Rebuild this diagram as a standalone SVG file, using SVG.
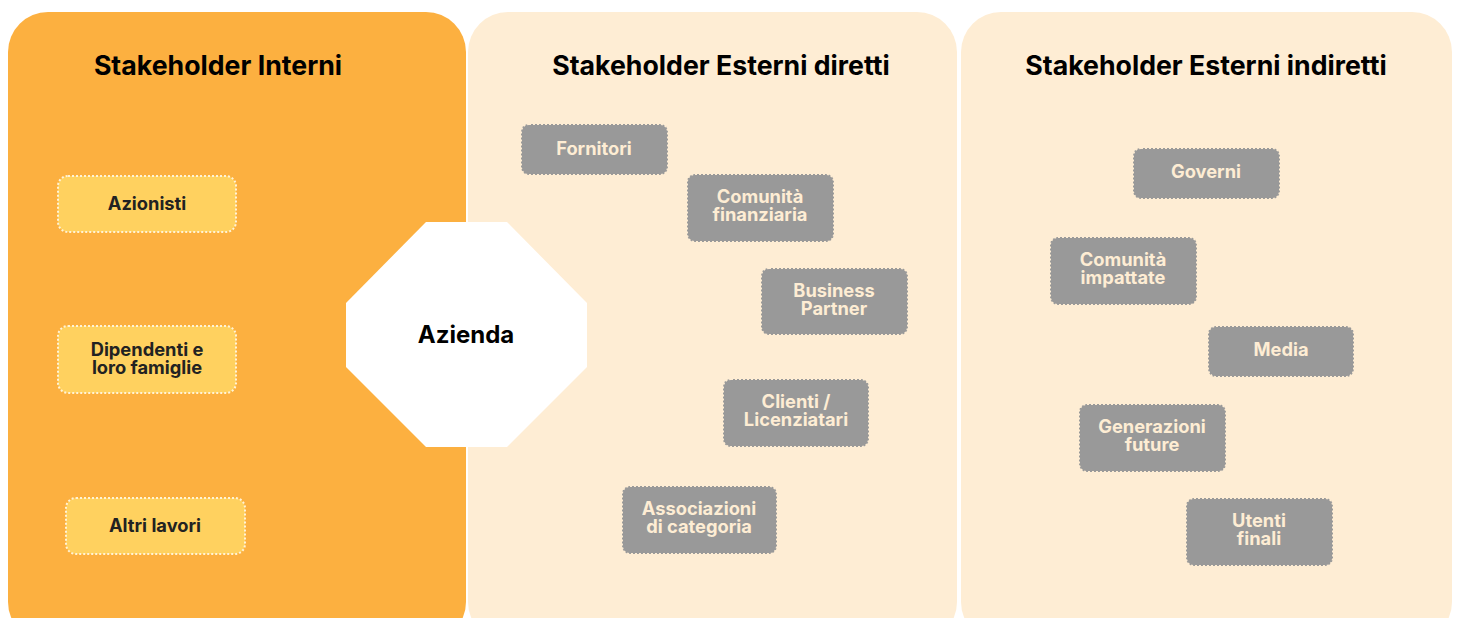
<svg xmlns="http://www.w3.org/2000/svg" width="1458" height="618" viewBox="0 0 1458 618">
<style>
.title{font-family:Inter,"Liberation Sans",sans-serif;font-weight:700;font-size:26.7px;fill:#000;text-anchor:middle}
.in rect{fill:#FFD15F;stroke:#FFF3D6;stroke-width:2;stroke-dasharray:2 2}
.in text{font-family:Inter,"Liberation Sans",sans-serif;font-weight:700;font-size:18.3px;fill:#222;text-anchor:middle}
.ex rect{fill:#999999;stroke:#FEEDD4;stroke-width:2;stroke-dasharray:2 2}
.ex text{font-family:Inter,"Liberation Sans",sans-serif;font-weight:700;font-size:18.3px;fill:#FEEDD4;text-anchor:middle}
</style>
<rect width="1458" height="618" fill="#fff"/>
<g id="panel-interni">
<rect x="8" y="12" width="458" height="630" rx="40" fill="#FCB040"/>
<text class="title" x="218" y="75">Stakeholder Interni</text>
</g>
<g id="panel-diretti">
<rect x="468" y="12" width="489" height="630" rx="40" fill="#FEEDD4"/>
<text class="title" x="721" y="75">Stakeholder Esterni diretti</text>
</g>
<g id="panel-indiretti">
<rect x="961" y="12" width="491" height="630" rx="40" fill="#FEEDD4"/>
<text class="title" x="1206" y="75">Stakeholder Esterni indiretti</text>
</g>
<g id="connectors"></g>
<g id="azienda">
<polygon points="426,222 507,222 587,303 587,367 507,447 426,447 346,367 346,303" fill="#fff"/>
<text x="466" y="343" font-family="Inter,'Liberation Sans',sans-serif" font-weight="700" font-size="24" text-anchor="middle" fill="#000">Azienda</text>
</g>
<g id="azionisti" class="in"><rect x="58" y="176" width="178" height="56" rx="10"/><text x="147" y="210">Azionisti</text></g>
<g id="dipendenti" class="in"><rect x="58" y="326" width="178" height="67" rx="10"/><text x="147" y="356">Dipendenti e</text><text x="147" y="374">loro famiglie</text></g>
<g id="altri-lavori" class="in"><rect x="66" y="498" width="179" height="56" rx="10"/><text x="155" y="532">Altri lavori</text></g>
<g id="fornitori" class="ex"><rect x="521" y="124" width="147" height="51" rx="8"/><text x="594" y="155">Fornitori</text></g>
<g id="comunita-finanziaria" class="ex"><rect x="687" y="174" width="147" height="68" rx="8"/><text x="760" y="203">Comunità</text><text x="760" y="221">finanziaria</text></g>
<g id="business-partner" class="ex"><rect x="761" y="268" width="147" height="67" rx="8"/><text x="834" y="297">Business</text><text x="834" y="315">Partner</text></g>
<g id="clienti" class="ex"><rect x="723" y="379" width="146" height="68" rx="8"/><text x="796" y="408">Clienti /</text><text x="796" y="426">Licenziatari</text></g>
<g id="associazioni" class="ex"><rect x="622" y="486" width="155" height="68" rx="8"/><text x="699" y="515">Associazioni</text><text x="699" y="533">di categoria</text></g>
<g id="governi" class="ex"><rect x="1133" y="148" width="147" height="51" rx="8"/><text x="1206" y="178">Governi</text></g>
<g id="comunita-impattate" class="ex"><rect x="1050" y="237" width="147" height="68" rx="8"/><text x="1123" y="266">Comunità</text><text x="1123" y="284">impattate</text></g>
<g id="media" class="ex"><rect x="1208" y="326" width="146" height="51" rx="8"/><text x="1281" y="356">Media</text></g>
<g id="generazioni-future" class="ex"><rect x="1079" y="404" width="147" height="68" rx="8"/><text x="1152" y="433">Generazioni</text><text x="1152" y="451">future</text></g>
<g id="utenti-finali" class="ex"><rect x="1186" y="498" width="147" height="68" rx="8"/><text x="1259" y="527">Utenti</text><text x="1259" y="545">finali</text></g>
</svg>
